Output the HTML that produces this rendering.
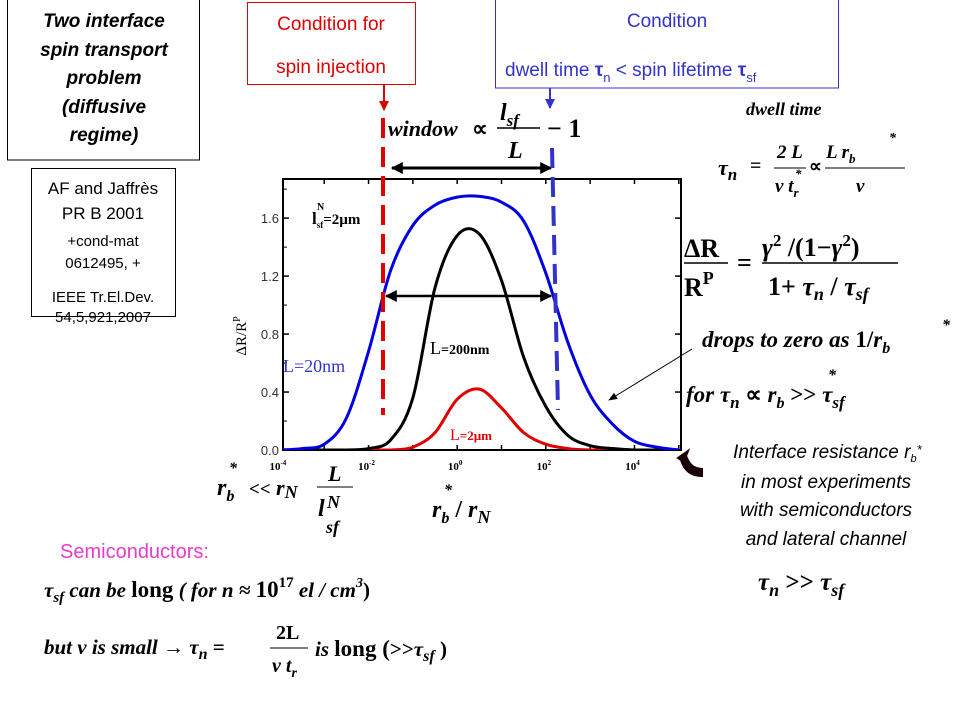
<!DOCTYPE html>
<html><head><meta charset="utf-8"><style>
html,body{margin:0;padding:0;background:#fff}
svg{display:block}
.ser{font-family:"Liberation Serif",serif;font-weight:bold;font-style:italic}
.sn{font-family:"Liberation Sans",sans-serif}
</style></head><body>
<svg id="s" width="960" height="720" viewBox="0 0 960 720" xmlns="http://www.w3.org/2000/svg">
<defs>
<marker id="ah" viewBox="0 0 10 10" refX="9" refY="5" markerUnits="userSpaceOnUse" markerWidth="14" markerHeight="12" orient="auto-start-reverse"><path d="M0,0L10,5L0,10z" fill="#000"/></marker>
<marker id="ahs" viewBox="0 0 10 10" refX="9" refY="5" markerWidth="9" markerHeight="9" orient="auto"><path d="M0,1L10,5L0,9z" fill="#000"/></marker>
<marker id="ahr" viewBox="0 0 10 10" refX="9" refY="5" markerWidth="5" markerHeight="5" orient="auto"><path d="M0,0L10,5L0,10z" fill="#e00000"/></marker>
<marker id="ahb" viewBox="0 0 10 10" refX="9" refY="5" markerWidth="5" markerHeight="5" orient="auto"><path d="M0,0L10,5L0,10z" fill="#3333cc"/></marker>
</defs>

<g>
<rect x="7.5" y="-1" width="192" height="161" fill="none" stroke="#000"/>
<text class="sn" font-size="19" font-weight="bold" font-style="italic" text-anchor="middle">
<tspan x="104" y="27">Two interface</tspan><tspan x="104" y="56">spin transport</tspan><tspan x="104" y="84">problem</tspan><tspan x="104" y="113">(diffusive</tspan><tspan x="104" y="141">regime)</tspan></text>
</g>
<g>
<rect x="31.5" y="168.5" width="144" height="148" fill="none" stroke="#000"/>
<text class="sn" text-anchor="middle" fill="#000">
<tspan x="103" y="194" font-size="17">AF and Jaffrès</tspan><tspan x="103" y="219" font-size="17">PR B 2001</tspan><tspan x="103" y="246" font-size="15">+cond-mat</tspan><tspan x="103" y="268" font-size="15">0612495, +</tspan><tspan x="103" y="302" font-size="15">IEEE Tr.El.Dev.</tspan></text>
<text class="sn" x="103" y="322" text-anchor="middle" font-size="15">54,5,921,2007</text>
</g>

<g>
<rect x="247.5" y="2.5" width="168" height="82" fill="none" stroke="#e00000"/>
<text class="sn" font-size="19" fill="#e00000" text-anchor="middle"><tspan x="331" y="30">Condition for</tspan><tspan x="331" y="73">spin injection</tspan></text>
</g>
<g>
<rect x="495.5" y="-1" width="343" height="89" fill="none" stroke="#3333cc"/>
<text class="sn" font-size="19" fill="#3333cc" text-anchor="middle" x="667" y="27">Condition</text>
<text class="sn" font-size="19" fill="#3333cc" x="505" y="76">dwell time <tspan font-weight="bold">τ</tspan><tspan font-size="13" dy="6">n</tspan><tspan dy="-6"> &lt; spin lifetime </tspan><tspan font-weight="bold">τ</tspan><tspan font-size="13" dy="6">sf</tspan></text>
</g>

<g class="ser">
<text x="388" y="136" font-size="22">window</text>
<text x="472" y="136" font-size="22" font-style="normal">∝</text>
<text x="500" y="120" font-size="24">l<tspan font-size="17" dy="6">sf</tspan></text>
<line x1="497" y1="128" x2="540" y2="128" stroke="#000" stroke-width="1.5"/>
<text x="508" y="158" font-size="24">L</text>
<text x="547" y="137" font-size="26" font-style="normal">− 1</text>
</g>
<line x1="392" y1="168" x2="551" y2="168" stroke="#000" stroke-width="3" marker-start="url(#ah)" marker-end="url(#ah)"/>

<g class="ser">
<text x="746" y="115" font-size="18">dwell  time</text>
<text x="718" y="175" font-size="22">τ<tspan font-size="17" dy="5">n</tspan></text>
<text x="750" y="172" font-size="20" font-style="normal">=</text>
<text x="777" y="158" font-size="19">2 L</text>
<line x1="774" y1="168" x2="806" y2="168" stroke="#000"/>
<text x="775" y="192" font-size="19">v t<tspan font-size="13" dy="5">r</tspan></text>
<text x="795" y="178" font-size="13">*</text>
<text x="809" y="172" font-size="18" font-style="normal">∝</text>
<text x="826" y="158" font-size="19">L  r<tspan font-size="13" dy="5">b</tspan></text>
<text x="889" y="142" font-size="14">*</text>
<line x1="825" y1="168" x2="905" y2="168" stroke="#000"/>
<text x="856" y="192" font-size="19">v</text>
</g>
<g class="ser">
<text x="684" y="257" font-size="26" font-style="normal">ΔR</text>
<line x1="684" y1="263" x2="728" y2="263" stroke="#000" stroke-width="1.5"/>
<text x="684" y="296" font-size="26" font-style="normal">R<tspan font-size="18" dy="-12">P</tspan></text>
<text x="737" y="271" font-size="26" font-style="normal">=</text>
<text x="762" y="256" font-size="26">γ<tspan font-size="17" dy="-10" font-style="normal">2</tspan><tspan dy="10" font-style="normal"> /(1−</tspan>γ<tspan font-size="17" dy="-10" font-style="normal">2</tspan><tspan dy="10" font-style="normal">)</tspan></text>
<line x1="762" y1="263" x2="898" y2="263" stroke="#000" stroke-width="1.5"/>
<text x="768" y="295" font-size="26"><tspan font-style="normal">1+</tspan> τ<tspan font-size="18" dy="5">n</tspan><tspan dy="-5" font-style="normal"> / </tspan>τ<tspan font-size="18" dy="5">sf</tspan></text>
</g>
<text class="ser" x="702" y="347" font-size="23">drops to zero as  <tspan font-style="normal">1/</tspan>r<tspan font-size="16" dy="6">b</tspan></text>
<text class="ser" x="942" y="330" font-size="16">*</text>
<text class="ser" x="686" y="402" font-size="23">for  τ<tspan font-size="17" dy="6">n</tspan><tspan dy="-6" font-style="normal"> ∝ </tspan>r<tspan font-size="16" dy="6">b</tspan><tspan dy="-6" font-style="normal"> &gt;&gt; </tspan>τ<tspan font-size="17" dy="6">sf</tspan></text>
<text class="ser" x="828" y="380" font-size="16">*</text>
<line x1="692" y1="349" x2="609" y2="400" stroke="#000" stroke-width="1" marker-end="url(#ahs)"/>

<g>
<text class="sn" font-size="19" font-style="italic" fill="#000" text-anchor="middle">
<tspan x="830" y="458">Interface resistance r<tspan font-size="11" dy="4">b</tspan><tspan dy="-8" font-size="13">*</tspan></tspan>
<tspan x="826" y="488">in most experiments</tspan><tspan x="826" y="516">with semiconductors</tspan><tspan x="826" y="545">and lateral channel</tspan></text>
<text class="ser" x="758" y="590" font-size="25">τ<tspan font-size="18" dy="6">n</tspan><tspan dy="-6" font-style="normal"> &gt;&gt; </tspan>τ<tspan font-size="18" dy="6">sf</tspan></text>
</g>
<path d="M678,458 L688,451 L686,456 C690,466 694,468 702,469 L702,476 C690,476 684,470 681,460 Z" fill="#1a0000" stroke="#1a0000" stroke-width="2"/>

<g class="ser">
<text x="217" y="495" font-size="24">r<tspan font-size="16" dy="6">b</tspan></text>
<text x="229" y="473" font-size="16">*</text>
<text x="249" y="495" font-size="19" font-style="normal">&lt;&lt;</text>
<text x="276" y="495" font-size="22">r<tspan font-size="18" dy="3">N</tspan></text>
<text x="328" y="481" font-size="22">L</text>
<line x1="317" y1="487" x2="353" y2="487" stroke="#000"/>
<text x="318" y="516" font-size="24">l</text>
<text x="327" y="508" font-size="18">N</text>
<text x="326" y="533" font-size="18">sf</text>
</g>
<g class="ser">
<text x="432" y="517" font-size="24">r<tspan font-size="16" dy="6">b</tspan><tspan dy="-6" font-style="normal"> / </tspan>r<tspan font-size="18" dy="6">N</tspan></text>
<text x="444" y="495" font-size="16">*</text>
</g>
<text class="sn" x="60" y="558" font-size="20" fill="#e83bc9">Semiconductors:</text>
<text class="ser" x="44" y="597" font-size="21">τ<tspan font-size="15" dy="5">sf</tspan><tspan dy="-5"> can be </tspan><tspan font-style="normal" font-size="23">long</tspan><tspan>   ( for n ≈ </tspan><tspan font-style="normal" font-size="23">10</tspan><tspan font-style="normal" font-size="15" dy="-10">17</tspan><tspan dy="10"> el / cm</tspan><tspan font-size="14" dy="-10">3</tspan><tspan dy="10" font-style="normal">)</tspan></text>
<g class="ser">
<text x="44" y="654" font-size="21">but v is small → τ<tspan font-size="16" dy="5">n</tspan><tspan dy="-5" font-style="normal"> = </tspan></text>
<text x="276" y="639" font-size="20" font-style="normal">2L</text>
<line x1="270" y1="648" x2="308" y2="648" stroke="#000"/>
<text x="272" y="672" font-size="20">v t<tspan font-size="14" dy="5">r</tspan></text>
<text x="315" y="656" font-size="21">is <tspan font-style="normal" font-size="23">long (</tspan><tspan font-style="normal">&gt;&gt;</tspan>τ<tspan font-size="16" dy="5">sf</tspan><tspan dy="-5" font-style="normal"> )</tspan></text>
</g>

<g id="chart"></g>
</svg>
<script>
const xLogs = [-4,-3.5,-3,-2.5,-2,-1.5,-1,-0.5,0,0.5,1,1.5,2,2.5,3,3.5,4,4.5,5];
const blueL20nm = [0,0.01,0.04,0.22,0.68,1.24,1.55,1.69,1.745,1.75,1.71,1.58,1.22,0.74,0.38,0.18,0.06,0.02,0];
const blackL200nm = [0,0,0,0,0.01,0.07,0.36,1.12,1.48,1.49,1.17,0.64,0.3,0.1,0.03,0.01,0,0,0];
const redL2um = [0,0,0,0,0,0,0.02,0.12,0.35,0.42,0.29,0.12,0.04,0.01,0,0,0,0,0];
const yTicks = [0.0,0.4,0.8,1.2,1.6];
const xTickLogs = [-4,-2,0,2,4];
const xTickLabels = ["-4","-2","0","2","4"];

const NS="http://www.w3.org/2000/svg";
const X0=283,X1=681,Y0=450,Y1=179;
const xMin=-3.93,xMax=5.05,yMin=0,yMax=1.87;
function sx(l){return X0+(l-xMin)/(xMax-xMin)*(X1-X0);}
function sy(v){return Y0-(v-yMin)/(yMax-yMin)*(Y0-Y1);}
const g=document.getElementById('chart');
function mk(t,a,p){const e=document.createElementNS(NS,t);for(const k in a)e.setAttribute(k,a[k]);(p||g).appendChild(e);return e;}

const frame=mk('rect',{x:X0,y:Y1,width:X1-X0,height:Y0-Y1,fill:'none',stroke:'#000','stroke-width':2});



yTicks.forEach(v=>{
  const y=sy(v);
  const t=mk('line',{x1:X0,y1:y,x2:X0+6,y2:y,stroke:'#000','stroke-width':1.5});
  
  
  const t2=mk('line',{x1:X1-6,y1:y,x2:X1,y2:y,stroke:'#000','stroke-width':1.5});
  
  
  const lb=mk('text',{x:X0-4,y:y+5,'text-anchor':'end','font-size':13,fill:'#333','font-family':'Liberation Sans,sans-serif'});
  lb.textContent=v.toFixed(1);
  
  
});
[0.2,0.6,1.0,1.4,1.8].forEach(v=>{
  const y=sy(v);
  const t=mk('line',{x1:X0,y1:y,x2:X0+4,y2:y,stroke:'#000'});
  
  
});
for(let l=-3;l<=5;l++){
  const x=sx(l);
  const t=mk('line',{x1:x,y1:Y1,x2:x,y2:Y1+5,stroke:'#000','stroke-width':1.5});
  
  
  const tb=mk('line',{x1:x,y1:Y0,x2:x,y2:Y0-5,stroke:'#000','stroke-width':1.5});
  
  
}
xTickLogs.forEach((l,i)=>{
  const lb=mk('text',{x:sx(l)-2,y:470,'text-anchor':'middle','font-size':11,'font-weight':'bold','font-family':'Liberation Serif,serif'});
  lb.innerHTML='10<tspan font-size="7" dy="-5">'+xTickLabels[i]+'</tspan>';
  
  
});
const yt=mk('text',{x:0,y:0,transform:'translate(246,336) rotate(-90)','text-anchor':'middle','font-size':15,'font-family':'Liberation Serif,serif'});
yt.innerHTML='ΔR/R<tspan font-size="10" dy="-6">P</tspan>';



function smoothPath(vals){
  const p=xLogs.map((l,i)=>[sx(l),sy(vals[i])]);
  let d='M'+p[0][0]+','+p[0][1];
  for(let i=0;i<p.length-1;i++){
    const a=p[Math.max(0,i-1)],b=p[i],c=p[i+1],e=p[Math.min(p.length-1,i+2)];
    const c1=[b[0]+(c[0]-a[0])/6,b[1]+(c[1]-a[1])/6],c2=[c[0]-(e[0]-b[0])/6,c[1]-(e[1]-b[1])/6];
    d+=' C'+c1[0]+','+Math.min(Y0,c1[1])+' '+c2[0]+','+Math.min(Y0,c2[1])+' '+c[0]+','+c[1];
  }
  return d;
}
const clip=mk('clipPath',{id:'pc'});
mk('rect',{x:X0,y:Y1,width:X1-X0,height:Y0-Y1},clip);
const s1=mk('path',{d:smoothPath(redL2um),fill:'none',stroke:'#e00000','stroke-width':3,'clip-path':'url(#pc)'});


const s2=mk('path',{d:smoothPath(blackL200nm),fill:'none',stroke:'#000','stroke-width':3,'clip-path':'url(#pc)'});


const s3=mk('path',{d:smoothPath(blueL20nm),fill:'none',stroke:'#0000e0','stroke-width':3,'clip-path':'url(#pc)'});



function lab(x,y,html,col,size,name){
  const t=mk('text',{x:x,y:y,fill:col,'font-size':size,'font-family':'Liberation Serif,serif'});
  t.innerHTML=html;
  
  
}
lab(283,372,'L=20nm','#3333cc',18,'label-l-20nm');
lab(430,354,'L<tspan font-weight="bold" font-size="14">=200nm</tspan>','#000',18,'label-l-200nm');
lab(450,440,'L<tspan font-weight="bold" font-size="13">=2µm</tspan>','#e00000',16,'label-l-2um');
lab(312,224,'<tspan font-weight="bold">l<tspan font-size="9" dy="4">sf</tspan><tspan dy="-4" font-size="15">=2µm</tspan></tspan>','#000',17,'label-lsf-2um');
lab(317,210,'<tspan font-weight="bold">N</tspan>','#000',10,'label-lsf-superscript');

const rd=mk('line',{x1:383,y1:118,x2:383,y2:415,stroke:'#e00000','stroke-width':4,'stroke-dasharray':'20,9'});


const ra=mk('line',{x1:384,y1:85,x2:384,y2:110,stroke:'#e00000','stroke-width':2,'marker-end':'url(#ahr)'});


const bd=mk('line',{x1:552,y1:148,x2:558,y2:410,stroke:'#3333cc','stroke-width':4,'stroke-dasharray':'20,9'});


const ba=mk('line',{x1:550,y1:88,x2:550,y2:108,stroke:'#3333cc','stroke-width':2,'marker-end':'url(#ahb)'});


const ha=mk('line',{x1:386,y1:296,x2:551,y2:296,stroke:'#000','stroke-width':2.5,'marker-start':'url(#ah)','marker-end':'url(#ah)'});


</script>
</body></html>
